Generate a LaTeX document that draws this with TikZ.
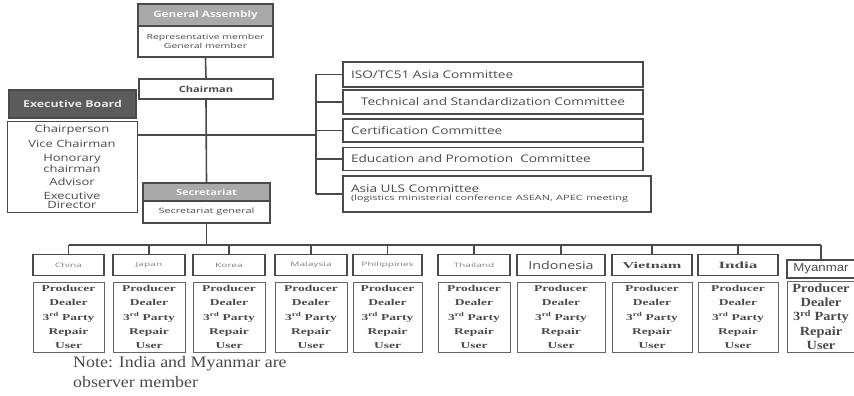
\documentclass[tikz,border=0pt]{standalone}
\usepackage{fontspec}
\setmainfont{Liberation Serif}
\setsansfont{Open Sans}
\newfontfamily\osA[FakeStretch=1.3]{Open Sans}
\newfontfamily\osB[FakeStretch=1.5]{Open Sans}
\newfontfamily\osC[FakeStretch=1.7]{Open Sans}
\newfontfamily\rbA[FakeStretch=1.5]{Liberation Serif}
\newfontfamily\rbB[FakeStretch=1.8]{Liberation Serif}
\newfontfamily\rbC[FakeStretch=1.15]{Liberation Serif}
\newfontfamily\noteF[FakeStretch=1.12]{Liberation Serif}
\newfontfamily\lsA[FakeStretch=1.15]{Liberation Sans}
\definecolor{hdr}{HTML}{A9A9A9}
\definecolor{ebdark}{HTML}{5B5B5B}
\definecolor{txt}{HTML}{4A4A4A}
\definecolor{lin}{HTML}{4A4A4A}
\begin{document}
\begin{tikzpicture}[x=1pt,y=-1pt,
  box/.style={draw=lin,line width=1.2pt,inner sep=1pt,align=center,text=txt},
  hbox/.style={box,fill=hdr,text=white!92!gray,font=\osA\bfseries\fontsize{8.5}{9}\selectfont},
  combox/.style={box,minimum width=300pt,text width=284pt,align=left,font=\osA\fontsize{10.5}{11}\selectfont},
  cname/.style={draw=lin,line width=1.8pt,inner sep=0pt,minimum height=21pt,text=gray,font=\osC\fontsize{6}{6}\selectfont},
  cbody/.style={draw=lin!85,line width=0.9pt,inner sep=0pt,minimum height=70pt,align=center,text=txt,font=\rbA\bfseries\fontsize{9}{14.2}\selectfont},
  conn/.style={draw=lin,line width=1.6pt}]
\useasboundingbox (0,0) rectangle (854,396);
% General assembly
\node[hbox,minimum width=135pt,minimum height=22pt,font=\osA\bfseries\fontsize{9}{9}\selectfont] (gah) at (205.5,15) {General Assembly};
\node[box,minimum width=135pt,minimum height=31pt,font=\osB\fontsize{7}{9.5}\selectfont] (gab) at (205.5,41.5) {Representative member\\General member};
\node[box,minimum width=134pt,minimum height=20pt,font=\osA\bfseries\fontsize{8.5}{9}\selectfont] (chair) at (206,89) {Chairman};
% Executive board
\node[box,fill=ebdark,text=white!80!gray,minimum width=127pt,minimum height=28pt,font=\osA\bfseries\fontsize{9.5}{10}\selectfont] (ebh) at (72.5,104) {Executive Board};
\node[box,line width=0.9pt,minimum width=130pt,minimum height=91pt,font=\osA\fontsize{10}{9}\selectfont] (ebb) at (72,166.5) {Chairperson\\[4.5pt]Vice Chairman\\[4.5pt]Honorary\\chairman\\[4.5pt]Advisor\\[4.5pt]Executive\\Director};
% Secretariat
\node[hbox,minimum width=127pt,minimum height=18pt] (sech) at (206.5,192) {Secretariat};
\node[box,minimum width=127pt,minimum height=22pt,font=\osB\fontsize{7.3}{8}\selectfont] (secb) at (206.5,212) {Secretariat general};
% Committees
\node[combox,minimum height=25pt] (c1) at (493,74.5) {ISO/TC51 Asia Committee};
\node[combox,minimum height=24pt,align=center] (c2) at (493,102) {Technical and Standardization Committee};
\node[combox,minimum height=23pt] (c3) at (493,130.5) {Certification Committee};
\node[combox,minimum height=23pt] (c4) at (493,159) {Education and Promotion \ Committee};
\node[combox,minimum width=308pt,minimum height=36pt,text width=292pt] (c5) at (497,194) {Asia ULS Committee\\[-3pt]{\osB\fontsize{7.3}{8}\selectfont (logistics ministerial conference ASEAN, APEC meeting}\\[4pt]};
\coordinate (bt) at (316,74.5);
\coordinate (bb) at (316,194);
\coordinate (mid) at (316,135);
\draw[conn] (bt) -- (bb);
\foreach \c in {c1,c2,c3,c4,c5} \draw[conn] (\c.west) -- (\c.west -| bt);
\draw[conn] (ebb.east |- mid) -- (mid);
\draw[conn] (gab.south) -- (chair.north);
\draw[conn] (chair.south) -- (sech.north);
% Countries
\def\bodytext{Producer\\Dealer\\3\textsuperscript{rd} Party\\Repair\\User}
\foreach \n/\xa/\xb/\lab in {cn/33/104/China,jp/113/185/Japan,kr/193/265/Korea,my/275/347/Malaysia,ph/353/422/Philippines,th/438/510/Thailand}{
  \node[cname,minimum width={\xb-\xa}] (h\n) at ({(\xa+\xb)/2},265) {\lab};
  \node[cbody,minimum width={\xb-\xa}] (b\n) at ({(\xa+\xb)/2},317) {\bodytext};
}
\node[cname,minimum width=88pt,text=txt,font=\osA\fontsize{11}{11}\selectfont] (hid) at (561,265) {Indonesia};
\node[cbody,minimum width=88pt] (bid) at (561,317) {\bodytext};
\node[cname,minimum width=80pt,text=txt,font=\rbB\bfseries\fontsize{9}{9}\selectfont] (hvn) at (652,265) {Vietnam};
\node[cbody,minimum width=80pt] (bvn) at (652,317) {\bodytext};
\node[cname,minimum width=80pt,text=txt,font=\rbB\bfseries\fontsize{9.5}{9}\selectfont] (hin) at (738,265) {India};
\node[cbody,minimum width=80pt] (bin) at (738,317) {\bodytext};
\node[cname,line width=1.2pt,minimum width=68pt,minimum height=18pt,text=txt,font=\lsA\fontsize{11.5}{12}\selectfont] (hmm) at (821,269) {Myanmar};
\node[cbody,minimum width=68pt,minimum height=71pt,font=\rbC\bfseries\fontsize{12.5}{14.3}\selectfont] (bmm) at (821,316.5) {\bodytext};
\coordinate (busL) at (68,245);
\coordinate (busR) at (821,245);
\draw[conn] (secb.south) -- (secb.south |- busL);
\draw[conn] (hcn.north |- busL) -- (busR);
\foreach \n in {cn,jp,kr,my,ph,th,id,vn,in,mm} \draw[conn] (h\n.north) -- (h\n.north |- busL);
% Note
\node[anchor=north west,align=left,inner sep=0pt,text=txt,font=\noteF\fontsize{16}{20}\selectfont] (note) at (73,356) {Note: India and Myanmar are\\observer member};
\end{tikzpicture}
\end{document}
